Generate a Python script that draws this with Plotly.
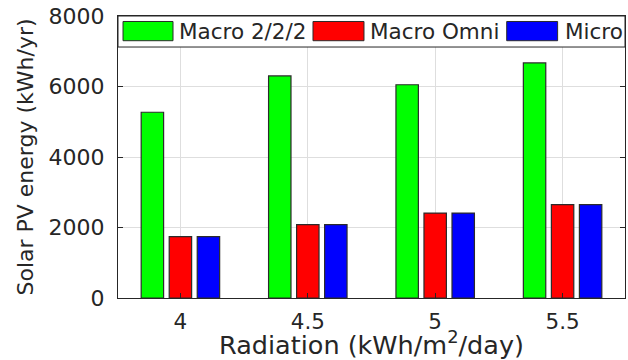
import plotly.graph_objects as go

# Annual solar PV energy for three antenna/site configurations
radiation = [4, 4.5, 5, 5.5]
radiation_labels = ["4", "4.5", "5", "5.5"]
series_names = ["Macro 2/2/2", "Macro Omni", "Micro"]
macro_222 = [5270, 6300, 6050, 6670]
macro_omni = [1740, 2080, 2410, 2650]
micro = [1740, 2080, 2410, 2650]
series_values = [macro_222, macro_omni, micro]
series_colors = ["#00ff00", "#ff0000", "#0000ff"]

FONT = "DejaVu Sans"
INK = "#262626"
EDGE = "#2b2b2b"

bar_width = 0.088
bar_offsets = [-0.154, -0.044, 0.066]

fig = go.Figure()
for name, vals, col, off in zip(series_names, series_values, series_colors, bar_offsets):
    fig.add_trace(go.Bar(
        x=radiation, y=vals, name=name,
        width=bar_width, offset=off,
        marker=dict(color=col, line=dict(color=EDGE, width=1.2)),
        showlegend=False,
    ))

fig.update_layout(
    width=628, height=360,
    margin=dict(l=118, r=3, t=16, b=62),
    paper_bgcolor="white", plot_bgcolor="white",
    barmode="overlay",
    font=dict(family=FONT, color=INK),
)

fig.update_xaxes(
    range=[3.755, 5.745],
    tickvals=radiation, ticktext=radiation_labels,
    tickfont=dict(family=FONT, size=21.5, color=INK),
    ticks="inside", ticklen=5, tickcolor=INK,
    ticklabelstandoff=4,
    showline=True, linecolor=INK, linewidth=1, mirror="ticks",
    showgrid=True, gridcolor="#dedede", gridwidth=1,
    zeroline=False,
    title=dict(text="Radiation (kWh/m<sup>2</sup>/day)",
               font=dict(family=FONT, size=25.5, color=INK), standoff=0),
)
fig.update_yaxes(
    range=[0, 8000],
    tickvals=[0, 2000, 4000, 6000, 8000],
    tickfont=dict(family=FONT, size=22, color=INK),
    ticks="inside", ticklen=5, tickcolor=INK,
    ticklabelstandoff=8,
    showline=True, linecolor=INK, linewidth=1, mirror="ticks",
    showgrid=True, gridcolor="#dedede", gridwidth=1,
    zeroline=False,
    title=dict(text="Solar PV energy (kWh/yr)",
               font=dict(family=FONT, size=22, color=INK), standoff=8),
)

# Legend box spanning the top of the axes
fig.add_shape(type="rect", xref="paper", yref="paper",
              x0=0, x1=1, y0=0.890, y1=1,
              fillcolor="white", line=dict(color=INK, width=1), layer="above")

swatch_x = [(0.0099, 0.1085), (0.3846, 0.4852), (0.7667, 0.8671)]
label_x = [0.1158, 0.4931, 0.8771]
for (x0, x1), lx, name, col in zip(swatch_x, label_x, series_names, series_colors):
    fig.add_shape(type="rect", xref="paper", yref="paper",
                  x0=x0, x1=x1, y0=0.9124, y1=0.9805,
                  fillcolor=col, line=dict(color=EDGE, width=1), layer="above")
    fig.add_annotation(xref="paper", yref="paper", x=lx, y=0.9468,
                       text=name, showarrow=False, xanchor="left", yanchor="middle",
                       font=dict(family=FONT, size=21.5, color=INK))

fig.write_html("out.html")
